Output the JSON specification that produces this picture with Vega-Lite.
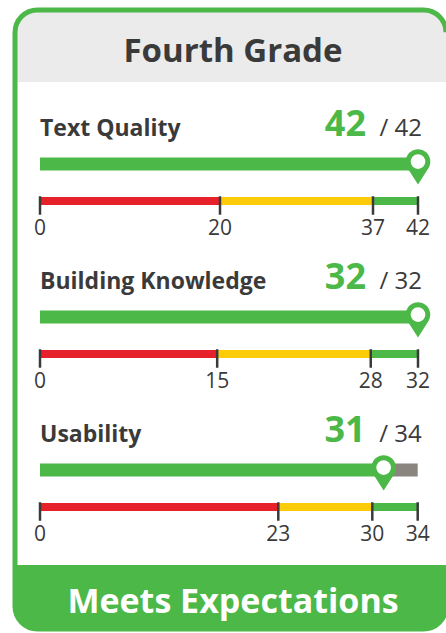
{
  "$schema": "https://vega.github.io/schema/vega-lite/v6.json",
  "width": 431,
  "height": 619,
  "autosize": "none",
  "padding": {"left": 15, "top": 10, "right": 0, "bottom": 4},
  "background": "white",
  "config": {
    "view": {"stroke": null},
    "axis": {"disable": true},
    "legend": {"disable": true},
    "font": "Open Sans",
    "text": {"font": "Open Sans"}
  },
  "datasets": {
    "card": [
      {"section": "header", "text": "Fourth Grade"},
      {"section": "footer", "text": "Meets Expectations"}
    ],
    "criteria": [
      {"section": "Text Quality", "score": 42, "max": 42, "max_label": "/ 42"},
      {"section": "Building Knowledge", "score": 32, "max": 32, "max_label": "/ 32"},
      {"section": "Usability", "score": 31, "max": 34, "max_label": "/ 34"}
    ],
    "bands": [
      {"section": "Text Quality", "rating": "Does Not Meet", "from": 0, "to": 20},
      {"section": "Text Quality", "rating": "Partially Meets", "from": 20, "to": 37},
      {"section": "Text Quality", "rating": "Meets", "from": 37, "to": 42},
      {"section": "Building Knowledge", "rating": "Does Not Meet", "from": 0, "to": 15},
      {"section": "Building Knowledge", "rating": "Partially Meets", "from": 15, "to": 28},
      {"section": "Building Knowledge", "rating": "Meets", "from": 28, "to": 32},
      {"section": "Usability", "rating": "Does Not Meet", "from": 0, "to": 23},
      {"section": "Usability", "rating": "Partially Meets", "from": 23, "to": 30},
      {"section": "Usability", "rating": "Meets", "from": 30, "to": 34}
    ],
    "ticks": [
      {"section": "Text Quality", "value": 0},
      {"section": "Text Quality", "value": 20},
      {"section": "Text Quality", "value": 37},
      {"section": "Text Quality", "value": 42},
      {"section": "Building Knowledge", "value": 0},
      {"section": "Building Knowledge", "value": 15},
      {"section": "Building Knowledge", "value": 28},
      {"section": "Building Knowledge", "value": 32},
      {"section": "Usability", "value": 0},
      {"section": "Usability", "value": 23},
      {"section": "Usability", "value": 30},
      {"section": "Usability", "value": 34}
    ]
  },
  "resolve": {"scale": {"x": "independent"}},
  "layer": [
    {
      "data": {"name": "card"},
      "transform": [{"filter": "datum.section === 'header'"}],
      "mark": {"type": "rect", "height": 72, "yOffset": 35, "color": "#ebebeb", "cornerRadiusTopLeft": 22.5, "cornerRadiusTopRight": 22.5},
      "encoding": {
        "y": {"field": "section", "type": "nominal", "scale": {"type": "point", "domain": ["header", "Text Quality", "Building Knowledge", "Usability", "footer"], "range": [1, 613], "padding": 0}}
      }
    },
    {
      "data": {"name": "card"},
      "transform": [{"filter": "datum.section === 'header'"}],
      "mark": {"type": "text", "fontSize": 33, "fontWeight": "bold", "color": "#3a3a3a", "baseline": "alphabetic", "yOffset": 50.7, "xOffset": 2.5},
      "encoding": {"y": {"field": "section", "type": "nominal"}, "text": {"field": "text", "type": "nominal"}}
    },
    {
      "data": {"name": "card"},
      "transform": [{"filter": "datum.section === 'footer'"}],
      "mark": {"type": "rect", "height": 64, "yOffset": -26, "color": "#4cb848", "cornerRadiusBottomLeft": 22.5, "cornerRadiusBottomRight": 22.5},
      "encoding": {"y": {"field": "section", "type": "nominal"}}
    },
    {
      "data": {"name": "card"},
      "transform": [{"filter": "datum.section === 'footer'"}],
      "mark": {"type": "text", "fontSize": 34, "fontWeight": "bold", "color": "white", "baseline": "alphabetic", "yOffset": -9.7, "xOffset": 2.5},
      "encoding": {"y": {"field": "section", "type": "nominal"}, "text": {"field": "text", "type": "nominal"}}
    },
    {
      "layer": [
        {
          "data": {"name": "criteria"},
          "transform": [{"filter": "datum.section === 'Text Quality'"}],
          "mark": {"type": "rule", "strokeWidth": 13, "color": "#8a857f"},
          "encoding": {
            "x": {"field": "score", "type": "quantitative", "scale": {"domain": [0, 42], "range": [25, 403], "nice": false, "zero": true}},
            "x2": {"field": "max"},
            "y": {"field": "section", "type": "nominal"}
          }
        },
        {
          "data": {"name": "criteria"},
          "transform": [{"filter": "datum.section === 'Text Quality'"}],
          "mark": {"type": "bar", "size": 13, "color": "#4cb848"},
          "encoding": {"x": {"field": "score", "type": "quantitative", "stack": null}, "y": {"field": "section", "type": "nominal"}}
        },
        {
          "data": {"name": "bands"},
          "transform": [{"filter": "datum.section === 'Text Quality'"}],
          "mark": {"type": "rule", "strokeWidth": 8, "yOffset": 37},
          "encoding": {
            "x": {"field": "from", "type": "quantitative"},
            "x2": {"field": "to"},
            "y": {"field": "section", "type": "nominal"},
            "color": {"field": "rating", "type": "nominal", "scale": {"domain": ["Does Not Meet", "Partially Meets", "Meets"], "range": ["#e6212a", "#fccc0a", "#4cb848"]}}
          }
        },
        {
          "data": {"name": "ticks"},
          "transform": [{"filter": "datum.section === 'Text Quality'"}],
          "mark": {"type": "tick", "orient": "vertical", "size": 18.5, "thickness": 2.5, "yOffset": 41.5, "color": "#3a3a3a", "opacity": 1},
          "encoding": {"x": {"field": "value", "type": "quantitative"}, "y": {"field": "section", "type": "nominal"}}
        },
        {
          "data": {"name": "ticks"},
          "transform": [{"filter": "datum.section === 'Text Quality'"}],
          "mark": {"type": "text", "fontSize": 21, "color": "#3a3a3a", "baseline": "alphabetic", "yOffset": 71.3},
          "encoding": {"x": {"field": "value", "type": "quantitative"}, "y": {"field": "section", "type": "nominal"}, "text": {"field": "value", "type": "quantitative"}}
        },
        {
          "data": {"name": "bands"},
          "transform": [{"filter": "datum.section === 'Text Quality' && datum.rating === 'Does Not Meet'"}],
          "mark": {"type": "text", "fontSize": 23, "fontWeight": "bold", "color": "#3a3a3a", "align": "left", "baseline": "alphabetic", "yOffset": -28},
          "encoding": {"x": {"field": "from", "type": "quantitative"}, "y": {"field": "section", "type": "nominal"}, "text": {"field": "section", "type": "nominal"}}
        },
        {
          "data": {"name": "criteria"},
          "transform": [{"filter": "datum.section === 'Text Quality'"}],
          "mark": {"type": "text", "fontSize": 36, "fontWeight": "bold", "color": "#4cb848", "align": "right", "baseline": "alphabetic", "yOffset": -28, "xOffset": -52},
          "encoding": {"x": {"field": "max", "type": "quantitative"}, "y": {"field": "section", "type": "nominal"}, "text": {"field": "score", "type": "quantitative"}}
        },
        {
          "data": {"name": "criteria"},
          "transform": [{"filter": "datum.section === 'Text Quality'"}],
          "mark": {"type": "text", "fontSize": 24, "color": "#3a3a3a", "align": "right", "baseline": "alphabetic", "yOffset": -28, "xOffset": 4},
          "encoding": {"x": {"field": "max", "type": "quantitative"}, "y": {"field": "section", "type": "nominal"}, "text": {"field": "max_label", "type": "nominal"}}
        },
        {
          "data": {"name": "criteria"},
          "transform": [{"filter": "datum.section === 'Text Quality'"}],
          "mark": {"type": "point", "shape": "M0,1L-0.59,0.074A0.699,0.699,0,1,1,0.59,0.074Z", "size": 1239, "filled": true, "color": "#4cb848", "opacity": 1, "strokeWidth": 0, "yOffset": 2.9},
          "encoding": {"x": {"field": "score", "type": "quantitative"}, "y": {"field": "section", "type": "nominal"}}
        },
        {
          "data": {"name": "criteria"},
          "transform": [{"filter": "datum.section === 'Text Quality'"}],
          "mark": {"type": "point", "shape": "circle", "size": 216, "filled": true, "color": "white", "opacity": 1, "strokeWidth": 0, "yOffset": -2.4},
          "encoding": {"x": {"field": "score", "type": "quantitative"}, "y": {"field": "section", "type": "nominal"}}
        }
      ]
    },
    {
      "layer": [
        {
          "data": {"name": "criteria"},
          "transform": [{"filter": "datum.section === 'Building Knowledge'"}],
          "mark": {"type": "rule", "strokeWidth": 13, "color": "#8a857f"},
          "encoding": {
            "x": {"field": "score", "type": "quantitative", "scale": {"domain": [0, 32], "range": [25, 403], "nice": false, "zero": true}},
            "x2": {"field": "max"},
            "y": {"field": "section", "type": "nominal"}
          }
        },
        {
          "data": {"name": "criteria"},
          "transform": [{"filter": "datum.section === 'Building Knowledge'"}],
          "mark": {"type": "bar", "size": 13, "color": "#4cb848"},
          "encoding": {"x": {"field": "score", "type": "quantitative", "stack": null}, "y": {"field": "section", "type": "nominal"}}
        },
        {
          "data": {"name": "bands"},
          "transform": [{"filter": "datum.section === 'Building Knowledge'"}],
          "mark": {"type": "rule", "strokeWidth": 8, "yOffset": 37},
          "encoding": {
            "x": {"field": "from", "type": "quantitative"},
            "x2": {"field": "to"},
            "y": {"field": "section", "type": "nominal"},
            "color": {"field": "rating", "type": "nominal"}
          }
        },
        {
          "data": {"name": "ticks"},
          "transform": [{"filter": "datum.section === 'Building Knowledge'"}],
          "mark": {"type": "tick", "orient": "vertical", "size": 18.5, "thickness": 2.5, "yOffset": 41.5, "color": "#3a3a3a", "opacity": 1},
          "encoding": {"x": {"field": "value", "type": "quantitative"}, "y": {"field": "section", "type": "nominal"}}
        },
        {
          "data": {"name": "ticks"},
          "transform": [{"filter": "datum.section === 'Building Knowledge'"}],
          "mark": {"type": "text", "fontSize": 21, "color": "#3a3a3a", "baseline": "alphabetic", "yOffset": 71.3},
          "encoding": {"x": {"field": "value", "type": "quantitative"}, "y": {"field": "section", "type": "nominal"}, "text": {"field": "value", "type": "quantitative"}}
        },
        {
          "data": {"name": "bands"},
          "transform": [{"filter": "datum.section === 'Building Knowledge' && datum.rating === 'Does Not Meet'"}],
          "mark": {"type": "text", "fontSize": 23, "fontWeight": "bold", "color": "#3a3a3a", "align": "left", "baseline": "alphabetic", "yOffset": -28},
          "encoding": {"x": {"field": "from", "type": "quantitative"}, "y": {"field": "section", "type": "nominal"}, "text": {"field": "section", "type": "nominal"}}
        },
        {
          "data": {"name": "criteria"},
          "transform": [{"filter": "datum.section === 'Building Knowledge'"}],
          "mark": {"type": "text", "fontSize": 36, "fontWeight": "bold", "color": "#4cb848", "align": "right", "baseline": "alphabetic", "yOffset": -28, "xOffset": -52},
          "encoding": {"x": {"field": "max", "type": "quantitative"}, "y": {"field": "section", "type": "nominal"}, "text": {"field": "score", "type": "quantitative"}}
        },
        {
          "data": {"name": "criteria"},
          "transform": [{"filter": "datum.section === 'Building Knowledge'"}],
          "mark": {"type": "text", "fontSize": 24, "color": "#3a3a3a", "align": "right", "baseline": "alphabetic", "yOffset": -28, "xOffset": 4},
          "encoding": {"x": {"field": "max", "type": "quantitative"}, "y": {"field": "section", "type": "nominal"}, "text": {"field": "max_label", "type": "nominal"}}
        },
        {
          "data": {"name": "criteria"},
          "transform": [{"filter": "datum.section === 'Building Knowledge'"}],
          "mark": {"type": "point", "shape": "M0,1L-0.59,0.074A0.699,0.699,0,1,1,0.59,0.074Z", "size": 1239, "filled": true, "color": "#4cb848", "opacity": 1, "strokeWidth": 0, "yOffset": 2.9},
          "encoding": {"x": {"field": "score", "type": "quantitative"}, "y": {"field": "section", "type": "nominal"}}
        },
        {
          "data": {"name": "criteria"},
          "transform": [{"filter": "datum.section === 'Building Knowledge'"}],
          "mark": {"type": "point", "shape": "circle", "size": 216, "filled": true, "color": "white", "opacity": 1, "strokeWidth": 0, "yOffset": -2.4},
          "encoding": {"x": {"field": "score", "type": "quantitative"}, "y": {"field": "section", "type": "nominal"}}
        }
      ]
    },
    {
      "layer": [
        {
          "data": {"name": "criteria"},
          "transform": [{"filter": "datum.section === 'Usability'"}],
          "mark": {"type": "rule", "strokeWidth": 13, "color": "#8a857f"},
          "encoding": {
            "x": {"field": "score", "type": "quantitative", "scale": {"domain": [0, 23, 30, 34], "range": [25, 263.3, 357.3, 402.7], "nice": false, "zero": true}},
            "x2": {"field": "max"},
            "y": {"field": "section", "type": "nominal"}
          }
        },
        {
          "data": {"name": "criteria"},
          "transform": [{"filter": "datum.section === 'Usability'"}],
          "mark": {"type": "bar", "size": 13, "color": "#4cb848"},
          "encoding": {"x": {"field": "score", "type": "quantitative", "stack": null}, "y": {"field": "section", "type": "nominal"}}
        },
        {
          "data": {"name": "bands"},
          "transform": [{"filter": "datum.section === 'Usability'"}],
          "mark": {"type": "rule", "strokeWidth": 8, "yOffset": 37},
          "encoding": {
            "x": {"field": "from", "type": "quantitative"},
            "x2": {"field": "to"},
            "y": {"field": "section", "type": "nominal"},
            "color": {"field": "rating", "type": "nominal"}
          }
        },
        {
          "data": {"name": "ticks"},
          "transform": [{"filter": "datum.section === 'Usability'"}],
          "mark": {"type": "tick", "orient": "vertical", "size": 18.5, "thickness": 2.5, "yOffset": 41.5, "color": "#3a3a3a", "opacity": 1},
          "encoding": {"x": {"field": "value", "type": "quantitative"}, "y": {"field": "section", "type": "nominal"}}
        },
        {
          "data": {"name": "ticks"},
          "transform": [{"filter": "datum.section === 'Usability'"}],
          "mark": {"type": "text", "fontSize": 21, "color": "#3a3a3a", "baseline": "alphabetic", "yOffset": 71.3},
          "encoding": {"x": {"field": "value", "type": "quantitative"}, "y": {"field": "section", "type": "nominal"}, "text": {"field": "value", "type": "quantitative"}}
        },
        {
          "data": {"name": "bands"},
          "transform": [{"filter": "datum.section === 'Usability' && datum.rating === 'Does Not Meet'"}],
          "mark": {"type": "text", "fontSize": 23, "fontWeight": "bold", "color": "#3a3a3a", "align": "left", "baseline": "alphabetic", "yOffset": -28},
          "encoding": {"x": {"field": "from", "type": "quantitative"}, "y": {"field": "section", "type": "nominal"}, "text": {"field": "section", "type": "nominal"}}
        },
        {
          "data": {"name": "criteria"},
          "transform": [{"filter": "datum.section === 'Usability'"}],
          "mark": {"type": "text", "fontSize": 36, "fontWeight": "bold", "color": "#4cb848", "align": "right", "baseline": "alphabetic", "yOffset": -28, "xOffset": -52},
          "encoding": {"x": {"field": "max", "type": "quantitative"}, "y": {"field": "section", "type": "nominal"}, "text": {"field": "score", "type": "quantitative"}}
        },
        {
          "data": {"name": "criteria"},
          "transform": [{"filter": "datum.section === 'Usability'"}],
          "mark": {"type": "text", "fontSize": 24, "color": "#3a3a3a", "align": "right", "baseline": "alphabetic", "yOffset": -28, "xOffset": 4},
          "encoding": {"x": {"field": "max", "type": "quantitative"}, "y": {"field": "section", "type": "nominal"}, "text": {"field": "max_label", "type": "nominal"}}
        },
        {
          "data": {"name": "criteria"},
          "transform": [{"filter": "datum.section === 'Usability'"}],
          "mark": {"type": "point", "shape": "M0,1L-0.59,0.074A0.699,0.699,0,1,1,0.59,0.074Z", "size": 1239, "filled": true, "color": "#4cb848", "opacity": 1, "strokeWidth": 0, "yOffset": 2.9},
          "encoding": {"x": {"field": "score", "type": "quantitative"}, "y": {"field": "section", "type": "nominal"}}
        },
        {
          "data": {"name": "criteria"},
          "transform": [{"filter": "datum.section === 'Usability'"}],
          "mark": {"type": "point", "shape": "circle", "size": 216, "filled": true, "color": "white", "opacity": 1, "strokeWidth": 0, "yOffset": -2.4},
          "encoding": {"x": {"field": "score", "type": "quantitative"}, "y": {"field": "section", "type": "nominal"}}
        }
      ]
    },
    {
      "data": {"values": [{"part": "card"}]},
      "mark": {"type": "rect", "fillOpacity": 0, "fill": "white", "stroke": "#4cb848", "strokeWidth": 5, "cornerRadius": 22.5, "strokeDash": [421, 575, 2000]},
      "encoding": {}
    }
  ]
}
